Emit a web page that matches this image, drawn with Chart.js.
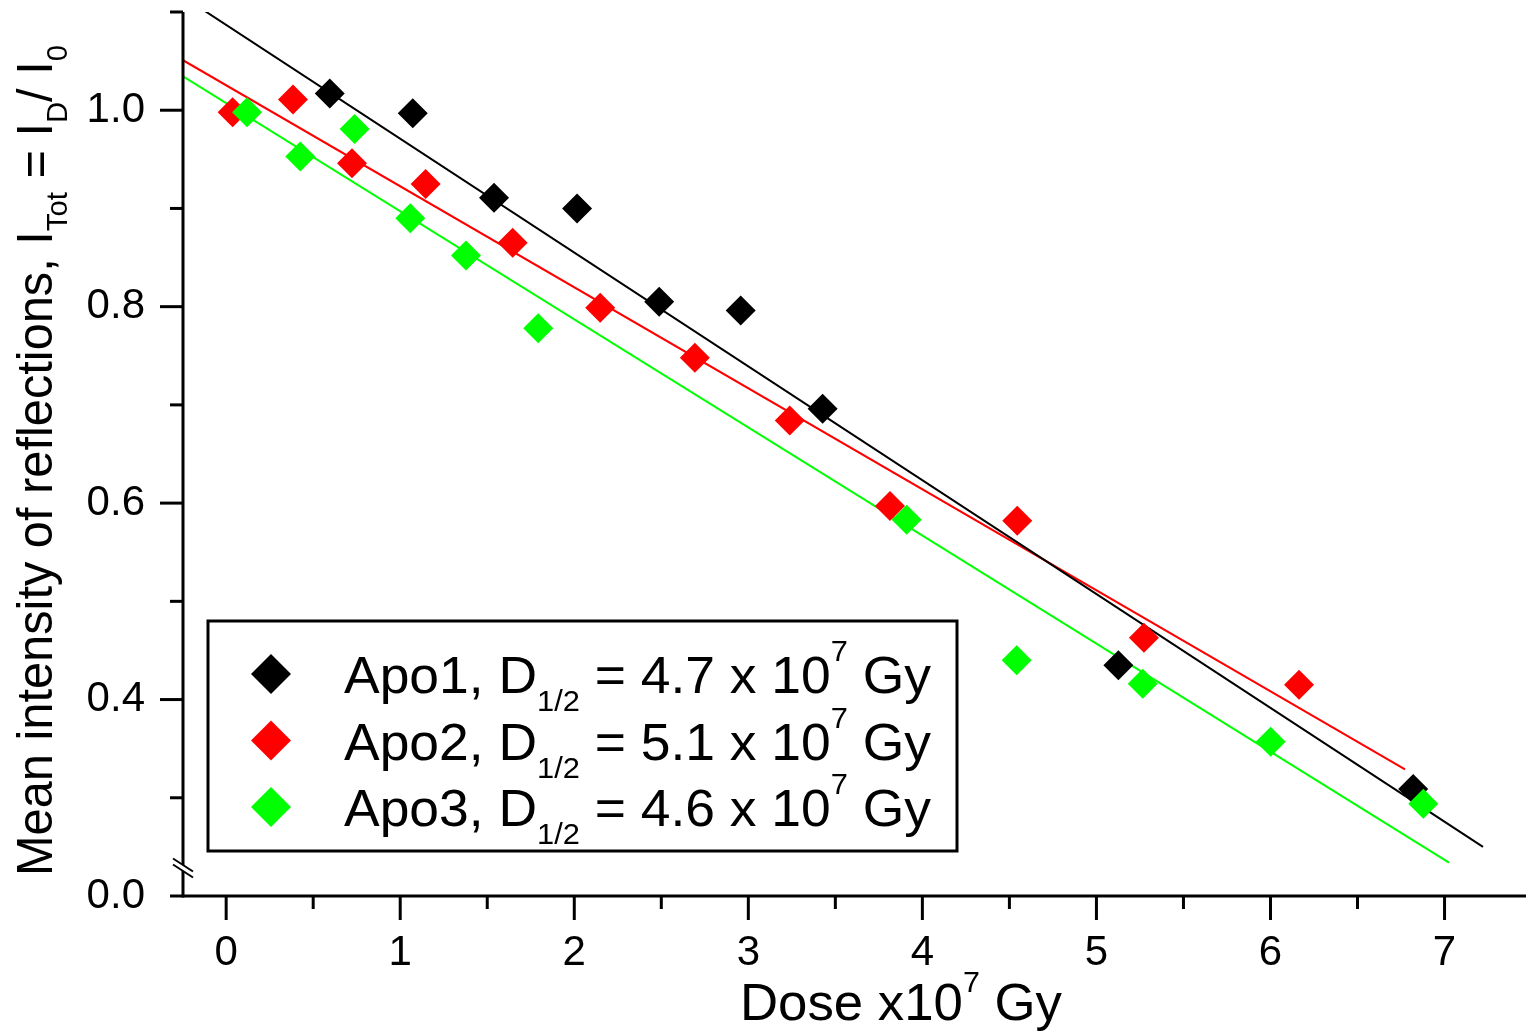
<!DOCTYPE html>
<html>
<head>
<meta charset="utf-8">
<title>Mean intensity of reflections vs dose</title>
<script src="https://cdn.jsdelivr.net/npm/chart.js@4/dist/chart.umd.min.js"></script>
<style>
  html, body { margin: 0; padding: 0; background: #fff; }
  #wrap { width: 1526px; height: 1031px; }
</style>
</head>
<body>
<div id="wrap"><canvas id="myChart" width="1526" height="1031"></canvas></div>
<script>
/* globals Chart:false */
var FONT = '"Liberation Sans", Arial, sans-serif';

// Apo1 (black)
var apo1Dose = [0.595, 1.072, 1.539, 2.016, 2.488, 2.956, 3.427, 5.126, 6.820];
var apo1Int  = [1.017, 0.997, 0.911, 0.900, 0.805, 0.796, 0.696, 0.435, 0.309];
// Apo2 (red)
var apo2Dose = [0.037, 0.384, 0.723, 1.146, 1.646, 2.149, 2.693, 3.238, 3.814, 4.545, 5.273, 6.164];
var apo2Int  = [0.998, 1.011, 0.946, 0.925, 0.865, 0.799, 0.748, 0.684, 0.597, 0.582, 0.463, 0.415];
// Apo3 (green)
var apo3Dose = [0.120, 0.426, 0.738, 1.058, 1.378, 1.793, 3.910, 4.542, 5.266, 6.001, 6.878];
var apo3Int  = [0.998, 0.953, 0.981, 0.890, 0.852, 0.778, 0.583, 0.440, 0.416, 0.357, 0.294];

// Linear fits (end points)
var fit1Dose = [-0.248, 7.221], fit1Int = [1.1156, 0.250];
var fit2Dose = [-0.248, 6.773], fit2Int = [1.0509, 0.329];
var fit3Dose = [-0.248, 7.026], fit3Int = [1.0346, 0.234];

// Axes (y axis is broken: 0.2 is shown as 0.0)
var xTicks = [0, 1, 2, 3, 4, 5, 6, 7];
var xMinor = [0.5, 1.5, 2.5, 3.5, 4.5, 5.5, 6.5];
var yTicks = [0.2, 0.4, 0.6, 0.8, 1.0];
var yTickLabels = ['0.0', '0.4', '0.6', '0.8', '1.0'];
var yMinor = [0.3, 0.5, 0.7, 0.9, 1.1];

var names = ['Apo1', 'Apo2', 'Apo3'];
var halfDose = ['4.7', '5.1', '4.6'];
var colors = ['#000000', '#ff0000', '#00ff00'];

function pts(xs, ys) {
  return xs.map(function(x, i) { return {x: x, y: ys[i]}; });
}

// Draw text made of runs with their own size and baseline shift
function richWidth(ctx, segs) {
  var w = 0;
  segs.forEach(function(s) {
    ctx.font = s.size + 'px ' + FONT;
    w += ctx.measureText(s.t).width;
  });
  return w;
}
function drawRich(ctx, segs, x, y) {
  segs.forEach(function(s) {
    ctx.font = s.size + 'px ' + FONT;
    ctx.fillText(s.t, x, y + (s.dy || 0));
    x += ctx.measureText(s.t).width;
  });
}
function drawFit(ctx, segs, x, y, width) {
  var w = richWidth(ctx, segs);
  ctx.save();
  ctx.translate(x, y);
  ctx.scale(width / w, 1);
  drawRich(ctx, segs, 0, 0);
  ctx.restore();
}
function seg(ctx, x1, y1, x2, y2) {
  ctx.beginPath();
  ctx.moveTo(x1, y1);
  ctx.lineTo(x2, y2);
  ctx.stroke();
}
function diamond(ctx, cx, cy, r, color) {
  ctx.fillStyle = color;
  ctx.beginPath();
  ctx.moveTo(cx, cy - r);
  ctx.lineTo(cx + r, cy);
  ctx.lineTo(cx, cy + r);
  ctx.lineTo(cx - r, cy);
  ctx.closePath();
  ctx.fill();
}
function noPad(scale) {
  scale.paddingTop = 0;
  scale.paddingBottom = 0;
  scale.paddingLeft = 0;
  scale.paddingRight = 0;
}

var decor = {
  id: 'decor',
  afterDraw: function(chart) {
    var ctx = chart.ctx;
    var xs = chart.scales.x, ys = chart.scales.y;
    var area = chart.chartArea;
    ctx.save();
    ctx.strokeStyle = '#000';
    ctx.lineWidth = 3;
    ctx.lineCap = 'butt';

    // axis lines
    seg(ctx, area.left, area.top, area.left, area.bottom + 1.5);
    seg(ctx, area.left - 13, area.bottom, area.right, area.bottom);

    // y ticks
    yTicks.forEach(function(v, i) {
      if (i === 0) return;
      var py = ys.getPixelForValue(v);
      seg(ctx, area.left - 23, py, area.left, py);
    });
    yMinor.forEach(function(v) {
      var py = ys.getPixelForValue(v);
      seg(ctx, area.left - 13, py, area.left, py);
    });
    // x ticks
    xTicks.forEach(function(v) {
      var px = xs.getPixelForValue(v);
      seg(ctx, px, area.bottom, px, area.bottom + 24);
    });
    xMinor.forEach(function(v) {
      var px = xs.getPixelForValue(v);
      seg(ctx, px, area.bottom, px, area.bottom + 13);
    });

    // axis break
    var bx = area.left, by = area.bottom - 28;
    ctx.fillStyle = '#fff';
    ctx.beginPath();
    ctx.moveTo(bx - 10, by - 9.5);
    ctx.lineTo(bx + 10, by + 3.5);
    ctx.lineTo(bx + 10, by + 9.5);
    ctx.lineTo(bx - 10, by - 3.5);
    ctx.closePath();
    ctx.fill();
    ctx.lineWidth = 2;
    seg(ctx, bx - 10, by - 9.5, bx + 10, by + 3.5);
    seg(ctx, bx - 10, by - 3.5, bx + 10, by + 9.5);

    // legend
    ctx.fillStyle = '#fff';
    ctx.fillRect(208, 621, 749, 230);
    ctx.lineWidth = 3;
    ctx.strokeRect(208, 621, 749, 230);
    ctx.textAlign = 'left';
    ctx.textBaseline = 'alphabetic';
    for (var i = 0; i < names.length; i++) {
      var base = 693 + i * 66.5;
      diamond(ctx, 271, base - 19, 20, colors[i]);
      ctx.fillStyle = '#000';
      drawFit(ctx, [
        {t: names[i] + ', D', size: 52},
        {t: '1/2', size: 30, dy: 18},
        {t: ' = ' + halfDose[i] + ' x 10', size: 52},
        {t: '7', size: 30, dy: -32},
        {t: ' Gy', size: 52}
      ], 344, base, 587);
    }

    // x title
    ctx.fillStyle = '#000';
    drawFit(ctx, [
      {t: 'Dose x10', size: 52},
      {t: '7', size: 30, dy: -28},
      {t: ' Gy', size: 52}
    ], 740, 1020, 322);

    // y title
    ctx.save();
    ctx.translate(52, 876);
    ctx.rotate(-Math.PI / 2);
    drawFit(ctx, [
      {t: 'Mean intensity of reflections, I', size: 50},
      {t: 'Tot', size: 30, dy: 15},
      {t: ' = I', size: 50},
      {t: 'D', size: 30, dy: 15},
      {t: '/ I', size: 50},
      {t: '0', size: 30, dy: 15}
    ], 0, 0, 831);
    ctx.restore();

    ctx.restore();
  }
};

var sets = [
  {label: names[2], data: pts(apo3Dose, apo3Int), color: colors[2], order: 0},
  {label: names[1], data: pts(apo2Dose, apo2Int), color: colors[1], order: 1},
  {label: names[0], data: pts(apo1Dose, apo1Int), color: colors[0], order: 2}
].map(function(s) {
  return {
    label: s.label,
    data: s.data,
    order: s.order,
    showLine: false,
    pointStyle: 'rectRot',
    pointRadius: 15,
    pointBorderWidth: 0,
    backgroundColor: s.color,
    borderColor: s.color
  };
});

var fits = [
  {data: pts(fit1Dose, fit1Int), color: colors[0]},
  {data: pts(fit2Dose, fit2Int), color: colors[1]},
  {data: pts(fit3Dose, fit3Int), color: colors[2]}
].map(function(f) {
  return {
    label: 'fit',
    data: f.data,
    order: 5,
    showLine: true,
    pointRadius: 0,
    borderWidth: 2,
    borderColor: f.color,
    backgroundColor: f.color
  };
});

var ctx = document.getElementById('myChart').getContext('2d');
var myChart = new Chart(ctx, {
  type: 'scatter',
  data: { datasets: sets.concat(fits) },
  options: {
    responsive: false,
    animation: false,
    devicePixelRatio: 1,
    events: [],
    layout: { autoPadding: false, padding: { top: 12, left: 0, right: 0, bottom: 0 } },
    plugins: {
      legend: { display: false },
      tooltip: { enabled: false }
    },
    scales: {
      x: {
        type: 'linear',
        min: -0.248,
        max: 7.468,
        grid: { display: false, drawTicks: false },
        border: { display: false },
        afterBuildTicks: function(scale) {
          scale.ticks = xTicks.map(function(v) { return {value: v}; });
        },
        afterFit: function(scale) { scale.height = 135; noPad(scale); },
        ticks: {
          padding: 32,
          color: '#000',
          font: { family: FONT, size: 42 },
          maxRotation: 0,
          autoSkip: false,
          callback: function(v) { return String(v); }
        }
      },
      y: {
        type: 'linear',
        min: 0.2,
        max: 1.1,
        grid: { display: false, drawTicks: false },
        border: { display: false },
        afterBuildTicks: function(scale) {
          scale.ticks = yTicks.map(function(v) { return {value: v}; });
        },
        afterFit: function(scale) { scale.width = 183; noPad(scale); },
        ticks: {
          padding: 38,
          color: '#000',
          font: { family: FONT, size: 42 },
          autoSkip: false,
          callback: function(v) {
            var idx = yTicks.findIndex(function(t) { return Math.abs(t - v) < 1e-6; });
            return idx >= 0 ? yTickLabels[idx] : '';
          }
        }
      }
    }
  },
  plugins: [decor]
});
</script>
</body>
</html>
